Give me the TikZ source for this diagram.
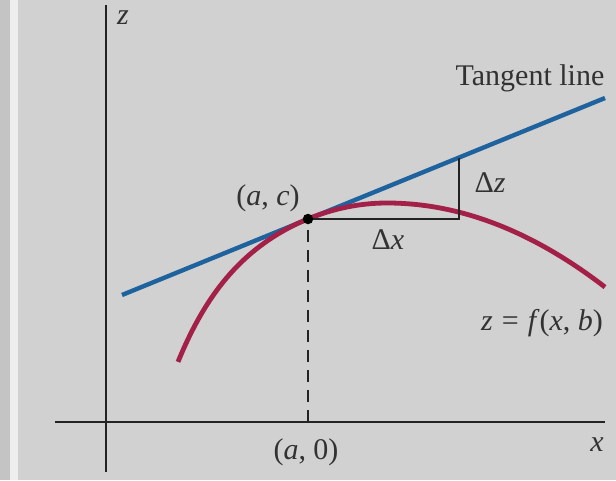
\documentclass[tikz,border=0pt]{standalone}
\usepackage{fontspec}
\setmainfont{Liberation Serif}
\definecolor{pagegray}{RGB}{209,209,209}
\definecolor{edgegray}{RGB}{196,196,196}
\definecolor{edgewhite}{RGB}{238,238,238}
\definecolor{tanblue}{RGB}{30,98,158}
\definecolor{curvered}{RGB}{163,32,72}
\definecolor{inkgray}{RGB}{50,50,50}
\definecolor{axisgray}{RGB}{35,35,35}
\begin{document}
\begin{tikzpicture}[x=1pt,y=-1pt,
  axisline/.style={line width=1.6pt, draw=axisgray},
  dashline/.style={line width=1.4pt, draw=axisgray, dash pattern=on 12pt off 8pt},
  tanline/.style={line width=4.4pt, draw=tanblue},
  curveline/.style={line width=4.8pt, draw=curvered},
  incrline/.style={line width=1.3pt, draw=axisgray},
  lbl/.style={text=inkgray, inner sep=0pt, font=\fontsize{30}{36}\selectfont},
  ptdot/.style={circle, fill=black, inner sep=0pt, minimum size=10.5pt}
  ]
\useasboundingbox (0,0) rectangle (616,480);
\fill[pagegray] (0,0) rectangle (616,480);
\fill[edgegray] (0,0) rectangle (10,480);
\fill[edgewhite] (10,0) rectangle (18,480);

% axes
\coordinate (zb) at (106,472);
\coordinate (zt) at (106,5);
\coordinate (xl) at (55,422);
\coordinate (xr) at (605,422);
\draw[axisline] (zb) -- (zt);
\draw[axisline] (xl) -- (xr);

% key points
\coordinate (P) at (308,219);
\coordinate (A0) at (308,422);
\coordinate (T1) at (122,295);
\coordinate (T2) at (605,98);
\coordinate (Q) at (459,219);
\coordinate (R) at (459,157.5);

\draw[dashline] (A0) -- (P);

% tangent line
\draw[tanline] (T1) -- (T2);

% curve z = f(x,b)
\draw[curveline]
  plot[domain=-209:0, samples=80, smooth]
    ({387+\x},{203+25.25*(\x/100)*(\x/100)+0.583*((\x/100)*(\x/100))^3})
  -- plot[domain=0:218, samples=60, smooth]
    ({387+\x},{203+17.7*(\x/100)*(\x/100)});

% increments
\draw[incrline] (P) -- (Q) -- (R);

\node[ptdot] (dot) at (P) {};

% labels
\node[lbl] (zlab) at (123,18) {\textit{z}};
\node[lbl] (xlab) at (597,445) {\textit{x}};
\node[lbl] (tanlab) at (530,78) {Tangent line};
\node[lbl] (dz) at (490,183) {Δ\textit{z}};
\node[lbl] (dx) at (388,240) {Δ\textit{x}};
\node[lbl] (ac) at (268,198) {(\textit{a}, \textit{c})};
\node[lbl] (a0) at (306,452) {(\textit{a}, 0)};
\node[lbl] (flab) at (542,323) {\textit{z}\hspace{0.3em}=\hspace{0.3em}\textit{f}(\textit{x}, \textit{b})};
\end{tikzpicture}
\end{document}
